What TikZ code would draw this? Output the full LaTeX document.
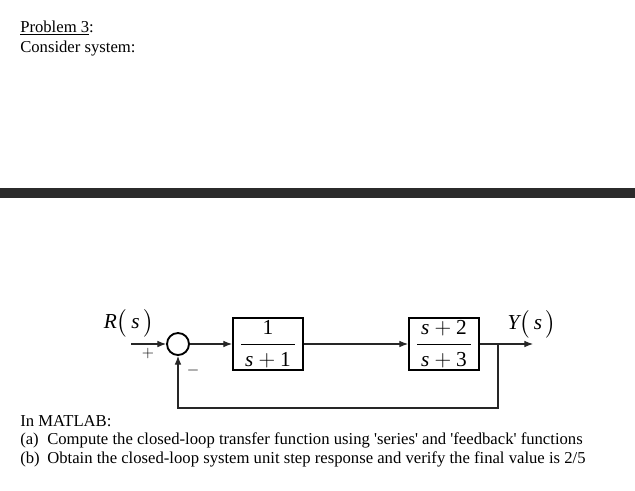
\documentclass[tikz,border=0pt]{standalone}
\usepackage{amsmath}
\usepackage{fontspec}
\setmainfont{Liberation Serif}
\usetikzlibrary{arrows.meta, positioning}

\begin{document}
\begin{tikzpicture}[x=.75pt, y=-.75pt,
    block/.style={draw, line width=1.5pt, minimum width=52.5pt, minimum height=39pt, inner sep=0pt, font=\fontsize{16}{19}\selectfont},
    sumpt/.style={draw, circle, line width=1.4pt, minimum size=16.5pt, inner sep=0pt},
    wire/.style={black!85, line width=.8pt},
    sig/.style={wire, -{Latex[length=6.5pt, width=5pt]}},
    txt/.style={anchor=base west, inner sep=0pt, font=\fontsize{12.5}{15}\selectfont},
    lbl/.style={inner sep=0pt, font=\fontsize{16}{19}\selectfont},
    sgn/.style={inner sep=0pt, font=\fontsize{12}{14}\selectfont}]
  \fill[white] (0,0) rectangle (635,490);
  \useasboundingbox (0,0) rectangle (635,490);
  % heading
  \node[txt] (title) at (20,32) {\underline{Problem 3}:};
  \node[txt] (intro) at (20,52) {Consider system:};
  \fill[black!83] (0,188) rectangle (635,198);
  % loop
  \coordinate (in) at (131,344);
  \node[sumpt] (sum) at (178,344) {};
  \node[block] (g1) at (268,344) {\(\dfrac{\;\text{1}\;}{\,\textit{s}+\text{1}\,}\)};
  \node[block] (g2) at (444,344) {\(\dfrac{\,\textit{s}+\text{2}\,}{\,\textit{s}+\text{3}\,}\)};
  \coordinate (branch) at (498,344);
  \coordinate (out) at (533,344);
  \draw[sig] (in) -- (sum);
  \draw[sig] (sum) -- (g1);
  \draw[sig] (g1) -- (g2);
  \draw[sig] (g2) -- (out);
  \draw[sig] (branch) -- ++(0,64) -| (sum);
  \node[lbl] (rin) at (129,323) {\(\textit{R}\bigl(\,\textit{s}\,\bigr)\)};
  \node[lbl] (yout) at (532,324) {\(\textit{Y}\bigl(\,\textit{s}\,\bigr)\)};
  \node[sgn] (plus) at (148,353) {\(+\)};
  \node[sgn] (minus) at (193,370) {\(-\)};
  % tasks
  \node[txt] (matlab) at (20,426) {In MATLAB:};
  \node[txt] (taga) at (20,444) {(a)};
  \node[txt] (itema) at (47,444) {Compute the closed-loop transfer function using \textquotesingle series\textquotesingle{} and \textquotesingle feedback\textquotesingle{} functions};
  \node[txt] (tagb) at (20,463) {(b)};
  \node[txt] (itemb) at (47,463) {Obtain the closed-loop system unit step response and verify the final value is 2/5};
\end{tikzpicture}
\end{document}
